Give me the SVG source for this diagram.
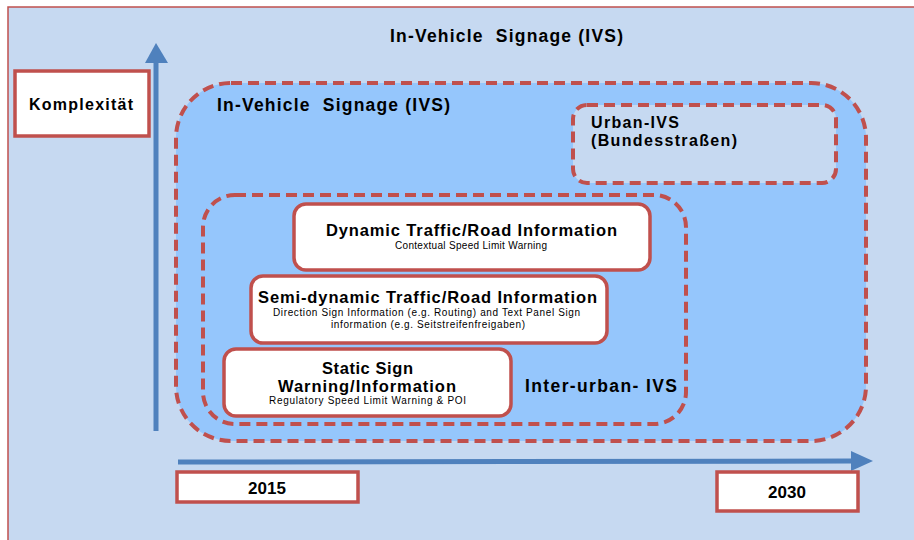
<svg xmlns="http://www.w3.org/2000/svg" width="914" height="540" viewBox="0 0 914 540">
<defs>
<style>
.frame{fill:#C6D9F1;stroke:#C0504D;stroke-width:1.5}
.dash{stroke:#C0504D;stroke-width:4;stroke-dasharray:11 6}
.box{fill:#FFFFFF;stroke:#C0504D;stroke-width:3.5}
.axis{stroke:#4F81BD;stroke-width:5;fill:none}
.t{font-family:"Liberation Sans",Arial,sans-serif;font-weight:bold;fill:#000}
.s{font-family:"Liberation Sans",Arial,sans-serif;fill:#000;font-size:10px}
</style>
</defs>
<rect width="914" height="540" fill="#FFFFFF"/>
<rect class="frame" x="8" y="7" width="920" height="545"/>
<g id="title"><text class="t" x="390" y="42" font-size="17.5" textLength="233" lengthAdjust="spacing" xml:space="preserve">In-Vehicle  Signage (IVS)</text></g>
<g id="connectors">
<line class="axis" x1="156" y1="431" x2="156" y2="60"/>
<polygon points="145,63 156,43 168,63" fill="#4F81BD"/>
<line class="axis" x1="178" y1="462" x2="853" y2="461"/>
<polygon points="851,451 873,461 851,471" fill="#4F81BD"/>
</g>
<g id="komplexitaet">
<rect class="box" x="15" y="71" width="134" height="65"/>
<text class="t" x="29" y="110" font-size="16" textLength="104" lengthAdjust="spacing">Komplexität</text>
</g>
<g id="ivs">
<rect class="dash" x="176" y="83" width="690" height="358" rx="55" fill="#95C6FC"/>
<text class="t" x="217" y="111" font-size="17.5" textLength="233" lengthAdjust="spacing" xml:space="preserve">In-Vehicle  Signage (IVS)</text>
</g>
<g id="urban">
<rect class="dash" x="573" y="105" width="263" height="78" rx="14" fill="#C6D9F1"/>
<text class="t" x="591" y="128" font-size="16" textLength="88" lengthAdjust="spacing">Urban-IVS</text>
<text class="t" x="591" y="146" font-size="16" textLength="146" lengthAdjust="spacing">(Bundesstraßen)</text>
</g>
<g id="interurban">
<rect class="dash" x="203" y="195" width="483" height="229" rx="32" fill="none"/>
<text class="t" x="525" y="392" font-size="17.5" textLength="152" lengthAdjust="spacing">Inter-urban- IVS</text>
</g>
<g id="dynamic">
<rect class="box" x="294" y="204" width="356" height="66" rx="12"/>
<text class="t" x="326" y="236" font-size="16.5" textLength="291" lengthAdjust="spacing">Dynamic Traffic/Road Information</text>
<text class="s" x="395" y="249" textLength="152" lengthAdjust="spacing">Contextual Speed Limit Warning</text>
</g>
<g id="semidynamic">
<rect class="box" x="251" y="276" width="356" height="67" rx="12"/>
<text class="t" x="258" y="303" font-size="16.5" textLength="339" lengthAdjust="spacing">Semi-dynamic Traffic/Road Information</text>
<text class="s" x="273" y="316" textLength="307" lengthAdjust="spacing">Direction Sign Information (e.g. Routing) and Text Panel Sign</text>
<text class="s" x="331" y="328" textLength="194" lengthAdjust="spacing">information (e.g. Seitstreifenfreigaben)</text>
</g>
<g id="static">
<rect class="box" x="224" y="349" width="287" height="67" rx="12"/>
<text class="t" x="322" y="374" font-size="16.5" textLength="91" lengthAdjust="spacing">Static Sign</text>
<text class="t" x="278" y="392" font-size="16.5" textLength="178" lengthAdjust="spacing">Warning/Information</text>
<text class="s" x="269" y="404" textLength="197" lengthAdjust="spacing">Regulatory Speed Limit Warning &amp; POI</text>
</g>
<g id="y2015">
<rect class="box" x="177" y="472" width="181" height="30"/>
<text class="t" x="267" y="494" font-size="17" text-anchor="middle">2015</text>
</g>
<g id="y2030">
<rect class="box" x="717" y="472" width="141" height="39"/>
<text class="t" x="787" y="498" font-size="17" text-anchor="middle">2030</text>
</g>
</svg>
